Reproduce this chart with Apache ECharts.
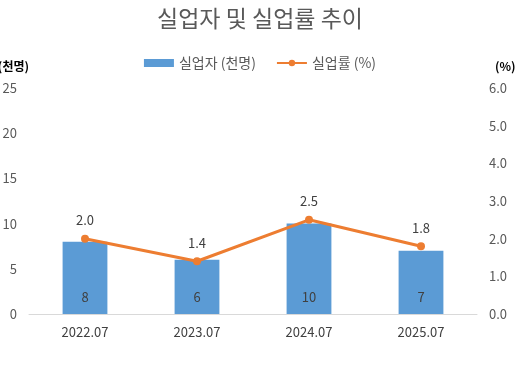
<!DOCTYPE html>
<html><head><meta charset="utf-8">
<script src="https://cdn.jsdelivr.net/npm/echarts@6/dist/echarts.min.js"></script>
<style>html,body{margin:0;padding:0;background:#fff}#c{width:520px;height:380px}</style>
</head><body><div id="c"></div>
<script>
const categories = ['2022.07','2023.07','2024.07','2025.07'];
const unemployed = [8, 6, 10, 7];
const unemploymentRate = [2.0, 1.4, 2.5, 1.8];
const leftTicks = [0, 5, 10, 15, 20, 25];
const rightTicks = [0, 1, 2, 3, 4, 5, 6];

const font = '"Noto Sans CJK KR", "Noto Sans", sans-serif';
const chart = echarts.init(document.getElementById('c'));
chart.setOption({
  animation: false,
  textStyle: {fontFamily: font},
  title: {text: '실업자 및 실업률 추이', left: 'center', top: 2,
    textStyle: {fontSize: 23, fontWeight: 'normal', color: '#595959', fontFamily: font}},
  legend: {top: 51, left: 'center', itemGap: 20, itemWidth: 30, itemHeight: 8,
    textStyle: {fontSize: 14, color: '#595959', fontFamily: font},
    data: [{name: '실업자 (천명)', icon: 'rect'}, {name: '실업률 (%)'}]},
  grid: {left: 29, right: 43, top: 88, bottom: 66, containLabel: false, outerBoundsMode: 'none'},
  xAxis: {type: 'category', data: categories,
    axisLine: {lineStyle: {color: '#d9d9d9'}}, axisTick: {show: false},
    axisLabel: {fontSize: 13, color: '#404040', margin: 12}},
  yAxis: [
    {type: 'value', min: leftTicks[0], max: leftTicks[leftTicks.length-1], interval: 5,
      name: '(천명)', nameLocation: 'end', nameGap: 16,
      nameTextStyle: {fontSize: 12, fontWeight: 'bold', color: '#000', align: 'right', padding: [0, 0, 0, 0]},
      splitLine: {show: false}, axisLine: {show: false}, axisTick: {show: false},
      axisLabel: {fontSize: 13, color: '#595959', margin: 12}},
    {type: 'value', min: rightTicks[0], max: rightTicks[rightTicks.length-1], interval: 1,
      name: '(%)', nameLocation: 'end', nameGap: 16,
      nameTextStyle: {fontSize: 12, fontWeight: 'bold', color: '#000', align: 'left', padding: [0, 0, 0, 18]},
      splitLine: {show: false}, axisLine: {show: false}, axisTick: {show: false},
      axisLabel: {fontSize: 13, color: '#595959', margin: 12, formatter: v => v.toFixed(1)}}
  ],
  series: [
    {name: '실업자 (천명)', type: 'bar', data: unemployed, barWidth: '40%',
      itemStyle: {color: '#5B9BD5'},
      label: {show: true, position: 'insideBottom', distance: 10, fontSize: 13, color: '#404040'}},
    {name: '실업률 (%)', type: 'line', yAxisIndex: 1, data: unemploymentRate,
      symbol: 'circle', symbolSize: 8,
      lineStyle: {color: '#ED7D31', width: 3}, itemStyle: {color: '#ED7D31'},
      label: {show: true, position: 'top', distance: 8, fontSize: 13, color: '#404040',
        formatter: p => p.value.toFixed(1)}}
  ]
});
</script></body></html>
